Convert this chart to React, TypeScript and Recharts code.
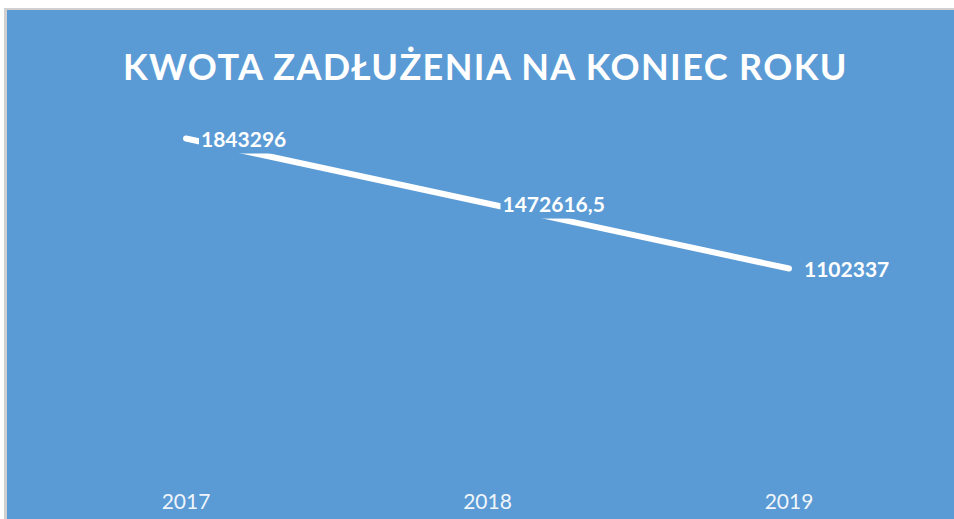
import React from "react";
import { LineChart, Line, XAxis, YAxis, LabelList } from "recharts";

const years = ["2017", "2018", "2019"];
const debt = [1843296, 1472616.5, 1102337];
const debtLabels = ["1843296", "1472616,5", "1102337"];
const title = "KWOTA ZADŁUŻENIA NA KONIEC ROKU";

const data = years.map((y, i) => ({ year: y, value: debt[i], label: debtLabels[i] }));

const BLUE = "#5B9BD5";
const FONT = "Lato, 'Open Sans', sans-serif";

const estWidth = (s: string) => {
  let w = 0;
  for (const c of s) w += c === "," ? 5.5 : 12.3;
  return w;
};

const ValueLabel = (props: any) => {
  const { x, y, value } = props;
  const s = String(value);
  const w = estWidth(s);
  return (
    <g>
      <rect x={x + 13} y={y - 12} width={w + 6} height={27} fill={BLUE} />
      <text
        x={x + 15}
        y={y + 1}
        dy="0.36em"
        fill="#FFFFFF"
        fontFamily={FONT}
        fontWeight={700}
        fontSize={21}
      >
        {s}
      </text>
    </g>
  );
};

const YearTick = (props: any) => {
  const { x, y, payload } = props;
  return (
    <text
      x={x}
      y={y + 31}
      textAnchor="middle"
      dy="0.36em"
      fill="rgba(255,255,255,0.92)"
      fontFamily={FONT}
      fontSize={21}
    >
      {payload.value}
    </text>
  );
};

export default function App() {
  return (
    <div
      style={{
        position: "absolute",
        left: 0,
        top: 0,
        width: 954,
        height: 519,
        background: "#FFFFFF",
        overflow: "hidden",
      }}
    >
      <div style={{ position: "absolute", left: 4, top: 8, width: 950, height: 511, background: "#D0D0D0" }} />
      <div style={{ position: "absolute", left: 7, top: 10, width: 947, height: 509, background: BLUE }}>
        <div
          style={{
            position: "absolute",
            left: 0,
            top: 34,
            width: 957,
            textAlign: "center",
            color: "#FFFFFF",
            fontFamily: FONT,
            fontWeight: 700,
            fontSize: 36,
            letterSpacing: 1.4,
            lineHeight: "44px",
            whiteSpace: "nowrap",
          }}
        >
          {title}
        </div>
        <LineChart
          width={947}
          height={509}
          data={data}
          margin={{ top: 101, right: 165, bottom: 0, left: 179 }}
          style={{ position: "absolute", left: 0, top: 0 }}
        >
          <XAxis
            dataKey="year"
            axisLine={false}
            tickLine={false}
            height={57}
            tick={<YearTick />}
            interval={0}
          />
          <YAxis hide domain={[0, 2000000]} width={0} />
          <Line
            type="linear"
            dataKey="value"
            stroke="#FFFFFF"
            strokeWidth={6}
            strokeLinecap="round"
            dot={false}
            isAnimationActive={false}
          >
            <LabelList dataKey="label" content={<ValueLabel />} />
          </Line>
        </LineChart>
      </div>
    </div>
  );
}
